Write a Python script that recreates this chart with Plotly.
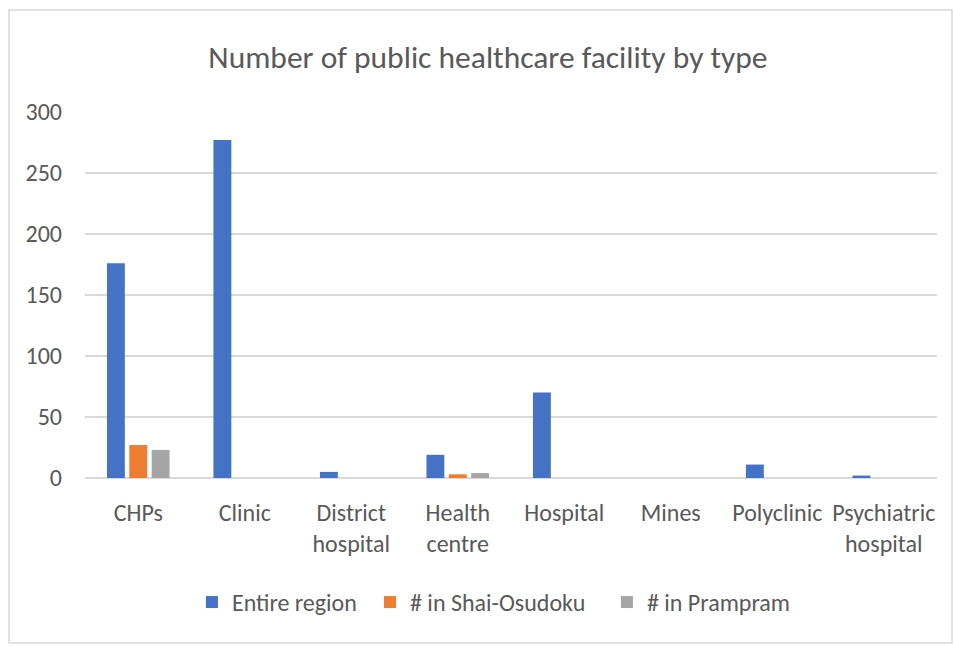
import plotly.graph_objects as go

categories = ["CHPs", "Clinic", "District<br>hospital", "Health<br>centre", "Hospital",
              "Mines", "Polyclinic", "Psychiatric<br>hospital"]
entire_region = [176, 277, 5, 19, 70, 0, 11, 2]
shai_osudoku = [27, 0, 0, 3, 0, 0, 0, 0]
prampram = [23, 0, 0, 4, 0, 0, 0, 0]
y_ticks = [0, 50, 100, 150, 200, 250, 300]

FONT = "Carlito, 'Liberation Sans Narrow', 'Arial Narrow', 'Liberation Sans', sans-serif"
TXT = "#595959"

fig = go.Figure()
fig.add_trace(go.Bar(name="Entire region", x=categories, y=entire_region, legend="legend",
                     showlegend=True, marker=dict(color="#4472C4", line=dict(width=0))))
fig.add_trace(go.Bar(name="# in Shai-Osudoku", x=categories, y=shai_osudoku, legend="legend2",
                     showlegend=True, marker=dict(color="#ED7D31", line=dict(width=0))))
fig.add_trace(go.Bar(name="# in Prampram", x=categories, y=prampram, legend="legend3",
                     showlegend=True, marker=dict(color="#A5A5A5", line=dict(width=0))))

def leg(x):
    return dict(orientation="h", x=x, xanchor="left", y=-0.34, yanchor="middle",
                font=dict(family=FONT, size=24, color=TXT), itemwidth=30,
                bgcolor="rgba(0,0,0,0)", visible=True)

fig.update_layout(
    width=953, height=646,
    showlegend=True,
    margin=dict(l=85, r=16, t=112, b=168),
    paper_bgcolor="white", plot_bgcolor="white",
    barmode="group", bargap=0.37, bargroupgap=0.2,
    font=dict(family=FONT, color=TXT, size=24),
    title=dict(text="Number of public healthcare facility by type",
               x=0.512, xanchor="center", y=0.912, yanchor="middle",
               font=dict(family=FONT, size=31.5, color=TXT)),
    legend=leg(0.1255), legend2=leg(0.3345), legend3=leg(0.6126),
    xaxis=dict(showgrid=False, showline=False, ticks="", tickfont=dict(size=24),
               ticklabelstandoff=18),
    yaxis=dict(range=[0, 300], tickvals=y_ticks, showgrid=True, gridcolor="#D9D9D9",
               gridwidth=1.5, zeroline=True, zerolinecolor="#D9D9D9", zerolinewidth=1.5,
               showline=False, ticks="", tickfont=dict(size=24), ticklabelstandoff=22),
    shapes=[dict(type="rect", xref="paper", yref="paper",
                 x0=-0.0892, x1=1.0176, y0=-0.4508, y1=1.2787,
                 line=dict(color="#D9D9D9", width=1.5), fillcolor="rgba(0,0,0,0)", layer="below")],
)

fig.write_html("out.html", config={"displayModeBar": False},
               post_script="document.body.style.margin='0';")
